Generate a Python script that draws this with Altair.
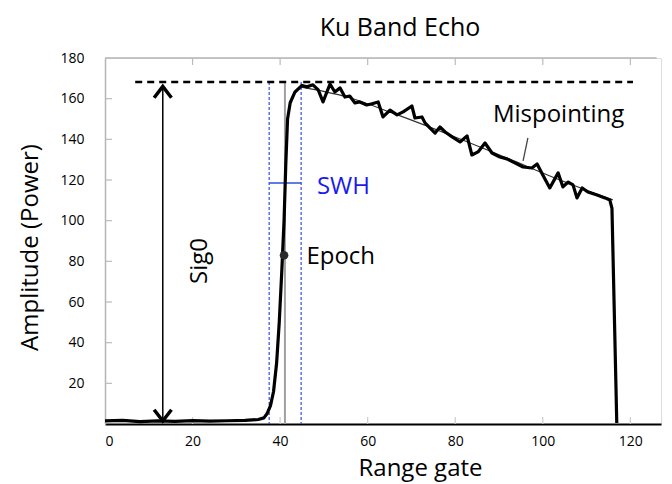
import altair as alt
import pandas as pd

FONT = "Open Sans"

# ---- data ----
wave_gate = [0, 4, 8, 12, 16, 20, 24, 28, 32, 35, 36.3, 37.0, 37.8, 38.5, 39.2, 39.8,
             40.4, 40.9, 41.3, 41.7, 42.3, 43.4, 45.0, 46.1, 47.5, 48.7, 49.8, 51.4,
             52.5, 53.7, 54.8, 55.9, 57.1, 58.2, 59.8, 61.0, 62.4, 63.5, 65.1, 66.7, 68.1,
             70.1, 70.8, 72.4, 73.1, 74.2, 75.4, 76.5, 77.7, 79.3, 81.1, 82.7, 83.8,
             85.2, 86.8, 88.4, 90.2, 91.8, 93.6, 95.5, 97.5, 98.7, 100.0, 101.6, 103.5,
             104.6, 105.8, 106.9, 107.8, 109.0, 110.3, 112.4, 114.2, 115.3, 115.8, 116.9]
wave_amp = [1.5, 1.8, 1.2, 1.5, 1.3, 1.7, 1.4, 1.6, 1.8, 2.2, 3, 5, 9, 16, 30, 50,
            76, 100, 128, 150, 158, 163.3, 166.5, 165.8, 166.8, 164.3, 158.4, 167.2,
            163.3, 165.3, 160.8, 161.3, 157.9, 158.4, 156.9, 157.5, 158.4, 151.0, 154.4, 152.0, 153.5,
            156.4, 150.5, 151.0, 148.1, 145.6, 143.1, 146.1, 143.6, 141.2, 138.7, 141.7, 132.3,
            133.8, 138.2, 133.3, 131.3, 130.4, 128.4, 126.4, 125.9, 127.9, 122.5, 116.1, 123.5,
            116.6, 119.0, 117.6, 111.2, 116.1, 114.1, 112.6, 111.2, 110.2, 106, 0.5]

model_gate = [44.6, 55.3, 66.2, 78.8, 91.8, 103.9, 116.0]
model_amp = [165.8, 160.8, 152.5, 142.1, 130.8, 120.0, 110.2]

x_ticks = [0, 20, 40, 60, 80, 100, 120]
y_ticks = [20, 40, 60, 80, 100, 120, 140, 160, 180]
inner_x_ticks = [20, 40, 60, 80, 100, 120]
inner_y_ticks = [20, 40, 60, 80, 100, 120, 140, 160]

peak_level = 168.2           # dashed max line
peak_from, peak_to = 6.9, 120.6
sig0_gate = 13.2
sig0_top, sig0_bottom = 166.0, 1.5
swh_left, swh_right, swh_level = 37.5, 44.8, 118.5
epoch_gate = 41.1
epoch_point = (40.9, 83.0)
mis_gate = [96.6, 95.5]
mis_amp = [140.7, 129.4]

ann_text = ["Sig0", "SWH", "Epoch", "Mispointing"]
ann_gate = [21.7, 48.4, 46.0, 88.6]
ann_amp = [80.2, 116.6, 82.0, 152.0]

# ---- scales / axes ----
xs = alt.Scale(domain=[0, 127], nice=False, zero=False)
ys = alt.Scale(domain=[0, 180], nice=False, zero=False)

xaxis = alt.Axis(values=x_ticks, title="Range gate", grid=False, tickSize=0,
                 labelFont=FONT, labelFontSize=14, labelColor="black", labelPadding=10,
                 titleFont=FONT, titleFontSize=24, titleFontWeight="normal", titleColor="black",
                 titleX=315, titleY=44, titleBaseline="middle", titleAlign="center",
                 domainColor="black", domainWidth=2)
yaxis = alt.Axis(values=y_ticks, title="Amplitude (Power)", grid=False, tickSize=0,
                 labelFont=FONT, labelFontSize=14, labelColor="black", labelPadding=21,
                 titleFont=FONT, titleFontSize=24, titleFontWeight="normal", titleColor="black",
                 titleX=-75, titleY=189, titleAngle=270, titleBaseline="middle", titleAlign="center",
                 domainColor="#b5b5b5", domainWidth=1.5)


def X(f):
    return alt.X(f, type="quantitative", scale=xs, axis=xaxis)


def Y(f):
    return alt.Y(f, type="quantitative", scale=ys, axis=yaxis)


wave_df = pd.DataFrame({"gate": wave_gate, "amp": wave_amp})
model_df = pd.DataFrame({"gate": model_gate, "amp": model_amp})

base_line = alt.Chart(wave_df).mark_line(color="black", strokeWidth=3.2, strokeJoin="round").encode(
    x=X("gate"), y=Y("amp"))

model_line = alt.Chart(model_df).mark_line(color="#333333", strokeWidth=1.2, interpolate="monotone").encode(
    x=X("gate"), y=Y("amp"))

# frame: top border and inward ticks
top_border = alt.Chart(pd.DataFrame({"a": [0], "b": [126], "y": [180]})).mark_rule(
    color="#b5b5b5", strokeWidth=1.5).encode(x=X("a"), x2="b", y=Y("y"))

left_ticks = alt.Chart(pd.DataFrame({"v": inner_y_ticks})).mark_rule(
    color="#bbbbbb", strokeWidth=1.2).encode(y=Y("v"), x=alt.value(0), x2=alt.value(7))
top_ticks = alt.Chart(pd.DataFrame({"v": inner_x_ticks})).mark_rule(
    color="#bbbbbb", strokeWidth=1.2).encode(x=X("v"), y=alt.value(0), y2=alt.value(7))
bottom_ticks = alt.Chart(pd.DataFrame({"v": inner_x_ticks})).mark_rule(
    color="#cccccc", strokeWidth=1.2).encode(x=X("v"), y=alt.value(359), y2=alt.value(366))

# dashed peak line
peak_rule = alt.Chart(pd.DataFrame({"a": [peak_from], "b": [peak_to], "y": [peak_level]})).mark_rule(
    color="black", strokeWidth=2.5, strokeDash=[7, 5]).encode(x=X("a"), x2="b", y=Y("y"))

# Sig0 double arrow
sig_df = pd.DataFrame({"x": [sig0_gate], "top": [sig0_top], "bottom": [sig0_bottom]})
sig_line = alt.Chart(sig_df).mark_rule(color="black", strokeWidth=1.5).encode(
    x=X("x"), y=Y("top"), y2="bottom")
sig_up = alt.Chart(sig_df).mark_point(shape="M -1 1.3 L 0 0 L 1 1.3", filled=False, size=300,
                                      color="black", strokeWidth=3.5, opacity=1).encode(x=X("x"), y=Y("top"))
sig_down = alt.Chart(sig_df).mark_point(shape="M -1 -1.3 L 0 0 L 1 -1.3", filled=False, size=300,
                                        color="black", strokeWidth=3.5, opacity=1).encode(x=X("x"), y=Y("bottom"))

# SWH lines
swh_v = alt.Chart(pd.DataFrame({"x": [swh_left, swh_right], "top": [peak_level, peak_level],
                                "bottom": [0, 0]})).mark_rule(
    color="#2c4fe0", strokeWidth=1.2, strokeDash=[3, 2]).encode(x=X("x"), y=Y("top"), y2="bottom")
swh_h = alt.Chart(pd.DataFrame({"a": [swh_left], "b": [swh_right], "y": [swh_level]})).mark_rule(
    color="#2c4fe0", strokeWidth=1.5).encode(x=X("a"), x2="b", y=Y("y"))

# epoch gate line + point
epoch_v = alt.Chart(pd.DataFrame({"x": [epoch_gate], "top": [peak_level], "bottom": [0]})).mark_rule(
    color="#a0a0a0", strokeWidth=2).encode(x=X("x"), y=Y("top"), y2="bottom")
epoch_pt = alt.Chart(pd.DataFrame({"x": [epoch_point[0]], "y": [epoch_point[1]]})).mark_point(
    shape="circle", filled=True, size=75, color="#2a2a2a", opacity=1).encode(x=X("x"), y=Y("y"))

# mispointing leader
mis_rule = alt.Chart(pd.DataFrame({"a": [mis_gate[0]], "b": [mis_gate[1]],
                                   "y": [mis_amp[0]], "y2": [mis_amp[1]]})).mark_rule(
    color="#444444", strokeWidth=1.3).encode(x=X("a"), x2="b", y=Y("y"), y2="y2")

ann = pd.DataFrame({"t": ann_text, "x": ann_gate, "y": ann_amp})


def label(i, **kw):
    return alt.Chart(ann.iloc[[i]]).mark_text(font=FONT, fontSize=24, **kw).encode(
        x=X("x"), y=Y("y"), text="t:N")


sig_txt = label(0, angle=270, align="center", baseline="middle", color="black")
swh_txt = label(1, align="left", baseline="middle", color="#1a1af0")
epoch_txt = label(2, align="left", baseline="middle", color="black")
mis_txt = label(3, align="left", baseline="middle", color="black")

chart = alt.layer(
    top_border, left_ticks, top_ticks, bottom_ticks,
    swh_v, epoch_v, peak_rule, sig_line, sig_up, sig_down, swh_h,
    model_line, base_line, epoch_pt, mis_rule,
    sig_txt, swh_txt, epoch_txt, mis_txt,
).properties(
    width=556, height=366,
    title=alt.TitleParams("Ku Band Echo", font=FONT, fontSize=25, fontWeight="normal",
                          color="black", anchor="middle", dx=17, offset=10),
    autosize=alt.AutoSizeParams(type="none"),
    padding={"left": 97, "top": 50, "right": 3, "bottom": 58},
).configure_view(stroke=None).configure(background="white")

chart.save("out.html", embed_options={"renderer": "svg", "actions": False})
